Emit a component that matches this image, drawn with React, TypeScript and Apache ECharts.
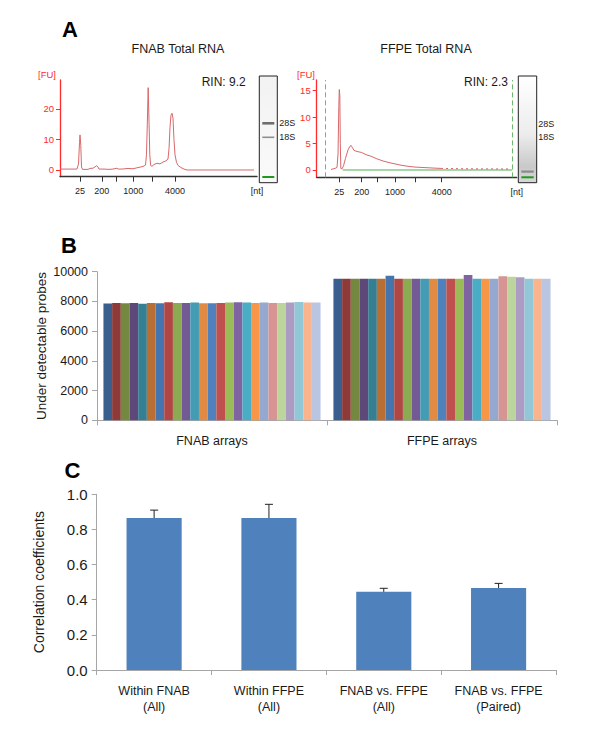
import React, { useEffect, useRef } from 'react';
import * as echarts from 'echarts';

const FONT = '"Liberation Sans", Arial, Helvetica, sans-serif';

// ---------- Panel A: electropherograms (x = migration time, s; y = FU) ----------
const fnabTime = [19.0, 21.54, 23.31, 23.7, 23.95, 24.08, 24.28, 24.46, 24.71, 26.11, 26.61, 27.38, 27.88, 28.31, 28.64, 28.9, 30.17, 31.44, 32.45, 33.47, 33.72, 34.74, 36.26, 37.53, 38.8, 39.56, 40.32, 40.7, 40.95, 41.16, 41.38, 41.59, 41.79, 42.0, 42.35, 42.86, 43.62, 44.38, 45.14, 45.9, 46.41, 46.67, 46.92, 47.17, 47.43, 47.68, 47.93, 48.19, 48.57, 48.95, 49.71, 50.47, 51.23, 68.24];
const fnabFU = [0.3, 0.3, 0.3, 2, 9, 11.5, 8, 1, 0.2, 0.2, 0.5, 0.6, 1.0, 1.4, 1.0, 0.3, 0.3, 0.2, 0.3, 0.6, 0.3, 0.3, 0.5, 0.4, 0.8, 1.0, 1.3, 1.6, 5, 15, 27, 16, 5, 1.5, 1.2, 1.8, 2.2, 2.0, 2.6, 3.0, 3.6, 7, 14, 18, 18.6, 17, 10, 5, 2.5, 1.5, 0.8, 0.3, 0, 0];
const fnabLadderPos = [24.08, 29.6, 33.4, 37.6, 42.3, 48.19];
const fnabLadderLabels = ['25', '200', '', '1000', '', '4000'];

const ffpeTime = [22.58, 23.58, 24.08, 24.33, 24.53, 24.65, 24.78, 24.9, 25.03, 25.33, 25.7, 26.2, 26.83, 27.33, 27.58, 27.95, 28.33, 29.08, 30.25, 31.33, 32.58, 34.08, 35.58, 37.08, 38.58, 40.08, 41.83, 43.58, 46.08, 48.58, 50.08];
const ffpeFU = [0.1, 0.3, 0.5, 3, 12, 15.2, 14, 5, 0.3, 0.2, 0.8, 2.2, 3.8, 4.5, 4.65, 4.2, 3.7, 3.5, 3.3, 2.9, 2.6, 2.1, 1.7, 1.4, 1.15, 0.9, 0.7, 0.55, 0.45, 0.35, 0.3];
const ffpeTailTime = [50.08, 54.83, 59.83, 64.83, 67.33];
const ffpeTailFU = [0.3, 0.25, 0.22, 0.2, 0.2];
const ffpeBaseTime = [25.5, 67.9];
const ffpeBaseFU = [0, 0];
const ffpeMarkerTimes = [21.25, 67.9];
const ffpeLadderPos = [24.65, 30.25, 34.25, 38.58, 43.58, 50.25];
const ffpeLadderLabels = ['25', '200', '', '1000', '', '4000'];

const fnabYTicks = [0, 10, 20];
const ffpeYTicks = [0, 5, 10, 15];

// ---------- Panel B ----------
const arrayGroups = ['FNAB arrays', 'FFPE arrays'];
const fnabProbes = [7860, 7890, 7870, 7900, 7850, 7900, 7880, 7950, 7900, 7900, 7920, 7880, 7880, 7900, 7920, 7950, 7920, 7900, 7930, 7900, 7890, 7920, 7960, 7930, 7930];
const ffpeProbes = [9520, 9520, 9520, 9520, 9520, 9520, 9730, 9520, 9520, 9520, 9520, 9520, 9520, 9520, 9520, 9780, 9520, 9520, 9520, 9700, 9660, 9620, 9520, 9520, 9520];
const arrayColors = ['#3A5F8F', '#8E3A38', '#74893F', '#5E4779', '#367F93', '#B96E33', '#4674AD', '#B04745', '#8CAA52', '#735A94', '#449CB4', '#E08A43', '#4F81BD', '#C0504D', '#9BBB59', '#8064A2', '#4BACC6', '#F79646', '#95A9D0', '#D69593', '#BCD59C', '#AC9CC3', '#92C7D8', '#F9B48E', '#BAC6E1'];

// ---------- Panel C ----------
const comparisons = ['Within FNAB\n(All)', 'Within FFPE\n(All)', 'FNAB vs. FFPE\n(All)', 'FNAB vs. FFPE\n(Paired)'];
const corrMeans = [0.865, 0.865, 0.445, 0.467];
const corrErrors = [0.045, 0.078, 0.02, 0.026];

const RED = '#ff2a2a';
const GRAY = '#a6a6a6';

function ladderAxis(gridIndex: number, pos: number[], labels: string[]) {
  const labelPos = pos.filter((_, i) => labels[i] !== '').concat([69]);
  return {
    type: 'value', gridIndex, min: 19, max: 69,
    axisLine: { show: true, onZero: false, lineStyle: { color: '#333', width: 1.3 } },
    axisTick: { show: true, customValues: pos, length: 5, lineStyle: { color: '#333', width: 1 } },
    axisLabel: {
      show: true, customValues: labelPos, margin: 10, fontSize: 9, color: '#222', fontFamily: FONT,
      formatter: (v: number) => {
        if (Math.abs(v - 69) < 0.01) return '[nt]';
        const i = pos.findIndex((p) => Math.abs(p - v) < 0.01);
        return i >= 0 ? labels[i] : '';
      },
    },
    splitLine: { show: false },
  };
}

function fuAxis(gridIndex: number, min: number, max: number, ticks: number[]) {
  return {
    type: 'value', gridIndex, min, max,
    axisLine: { show: true, lineStyle: { color: RED, width: 1.3 } },
    axisTick: { show: true, customValues: ticks, length: 4, lineStyle: { color: RED } },
    axisLabel: { show: true, customValues: ticks, margin: 6, fontSize: 9.5, color: RED, fontFamily: FONT },
    splitLine: { show: false },
  };
}

function txt(text: string, x: number, y: number, o: any = {}) {
  return {
    type: 'text', x, y, silent: true,
    style: { text, fill: o.fill || '#1a1a1a', fontSize: o.fontSize || 12, fontFamily: FONT, fontWeight: o.fontWeight || 'normal', align: o.align || 'left', verticalAlign: 'middle' },
  };
}

function gel(x: number, w: number, fill: any, bands: any[]) {
  return {
    type: 'group', silent: true,
    children: [
      { type: 'rect', shape: { x, y: 76, width: w, height: 106.7 }, style: { fill, stroke: '#222', lineWidth: 1 } },
      ...bands.map((b) => ({ type: 'rect', shape: { x: x + 3, y: b.y, width: w - 6, height: b.h }, style: { fill: b.c } })),
    ],
  };
}

export default function App() {
  const ref = useRef<HTMLDivElement>(null);
  useEffect(() => {
    if (!ref.current) return;
    const chart = echarts.init(ref.current, null, { renderer: 'svg' });
    const pairs = (xs: number[], ys: number[]) => xs.map((x, i) => [x, ys[i]]);

    const barSeries = arrayColors.map((c, i) => ({
      type: 'bar', xAxisIndex: 2, yAxisIndex: 2,
      data: [fnabProbes[i], ffpeProbes[i]],
      itemStyle: { color: c },
      barGap: '0%', barCategoryGap: '5.6%',
    }));

    const option: any = {
      animation: false,
      textStyle: { fontFamily: FONT },
      grid: [
        { left: 60, top: 80, width: 197, height: 96.7 },
        { left: 316.7, top: 80, width: 200, height: 97.3 },
        { left: 97, top: 271.7, width: 460, height: 148.6 },
        { left: 96.7, top: 494.3, width: 459.3, height: 175.7 },
      ],
      xAxis: [
        ladderAxis(0, fnabLadderPos, fnabLadderLabels),
        ladderAxis(1, ffpeLadderPos, ffpeLadderLabels),
        {
          type: 'category', gridIndex: 2, data: arrayGroups,
          axisLine: { lineStyle: { color: GRAY } },
          axisTick: { show: true, alignWithLabel: false, length: 5, lineStyle: { color: GRAY } },
          axisLabel: { fontSize: 12.5, color: '#1a1a1a', margin: 14, fontFamily: FONT },
        },
        {
          type: 'category', gridIndex: 3, data: comparisons,
          axisLine: { lineStyle: { color: GRAY } },
          axisTick: { show: true, alignWithLabel: false, length: 5, lineStyle: { color: GRAY } },
          axisLabel: { fontSize: 12.5, lineHeight: 16, color: '#1a1a1a', margin: 13, fontFamily: FONT, interval: 0 },
        },
      ],
      yAxis: [
        fuAxis(0, -2.2, 29.5, fnabYTicks),
        fuAxis(1, -1.38, 17.0, ffpeYTicks),
        {
          type: 'value', gridIndex: 2, min: 0, max: 10000, interval: 2000,
          name: 'Under detectable probes', nameLocation: 'middle', nameRotate: 90, nameGap: 49,
          nameMoveOverlap: false,
          nameTextStyle: { fontSize: 13.5, color: '#1a1a1a', fontFamily: FONT },
          axisLine: { show: true, lineStyle: { color: GRAY } },
          axisTick: { show: true, length: 5, lineStyle: { color: GRAY } },
          axisLabel: { fontSize: 12.5, color: '#1a1a1a', margin: 9, fontFamily: FONT, formatter: (v: number) => String(v) },
          splitLine: { show: false },
        },
        {
          type: 'value', gridIndex: 3, min: 0, max: 1, interval: 0.2,
          name: 'Correlation coefficients', nameLocation: 'middle', nameRotate: 90, nameGap: 51,
          nameMoveOverlap: false,
          nameTextStyle: { fontSize: 14, color: '#1a1a1a', fontFamily: FONT },
          axisLine: { show: true, lineStyle: { color: GRAY } },
          axisTick: { show: true, length: 5, lineStyle: { color: GRAY } },
          axisLabel: { fontSize: 15, color: '#1a1a1a', margin: 9, fontFamily: FONT, formatter: (v: number) => v.toFixed(1) },
          splitLine: { show: false },
        },
      ],
      series: [
        {
          type: 'line', xAxisIndex: 0, yAxisIndex: 0, data: pairs(fnabTime, fnabFU),
          showSymbol: false, lineStyle: { color: '#d9676a', width: 1 }, z: 3,
        },
        {
          type: 'line', xAxisIndex: 1, yAxisIndex: 1, data: pairs(ffpeBaseTime, ffpeBaseFU),
          showSymbol: false, lineStyle: { color: '#4caf50', width: 1 }, z: 2,
          markLine: {
            silent: true, symbol: ['none', 'none'], label: { show: false },
            lineStyle: { color: '#6fb86f', type: [5, 3], width: 1 },
            data: ffpeMarkerTimes.map((t) => ({ xAxis: t })),
          },
        },
        {
          type: 'line', xAxisIndex: 1, yAxisIndex: 1, data: pairs(ffpeTime, ffpeFU),
          showSymbol: false, lineStyle: { color: '#d9676a', width: 1 }, z: 3,
        },
        {
          type: 'line', xAxisIndex: 1, yAxisIndex: 1, data: pairs(ffpeTailTime, ffpeTailFU),
          showSymbol: false, lineStyle: { color: '#d9676a', width: 1, type: [2, 3] }, z: 3,
        },
        ...barSeries,
        {
          type: 'bar', xAxisIndex: 3, yAxisIndex: 3, data: corrMeans,
          barWidth: '48%', itemStyle: { color: '#4F81BD' },
        },
        {
          type: 'custom', xAxisIndex: 3, yAxisIndex: 3, z: 5,
          data: corrMeans.map((m, i) => [i, m, corrErrors[i]]),
          renderItem: (params: any, api: any) => {
            const i = api.value(0);
            const m = api.value(1);
            const e = api.value(2);
            const base = api.coord([i, m]);
            const top = api.coord([i, m + e]);
            const st = { stroke: '#222', lineWidth: 1 };
            return {
              type: 'group',
              children: [
                { type: 'line', shape: { x1: base[0], y1: base[1], x2: base[0], y2: top[1] }, style: st },
                { type: 'line', shape: { x1: base[0] - 4, y1: top[1], x2: base[0] + 4, y2: top[1] }, style: st },
              ],
            };
          },
        },
      ],
      graphic: [
        txt('A', 70, 29, { fontSize: 22, fontWeight: 'bold', align: 'center', fill: '#000' }),
        txt('FNAB Total RNA', 178, 48.5, { fontSize: 12.5, align: 'center' }),
        txt('FFPE Total RNA', 426, 48.5, { fontSize: 12.5, align: 'center' }),
        txt('RIN: 9.2', 201.7, 81.7, { fontSize: 12 }),
        txt('RIN: 2.3', 464, 81.7, { fontSize: 12 }),
        txt('[FU]', 47, 74, { fontSize: 9.5, align: 'center', fill: RED }),
        txt('[FU]', 306, 74, { fontSize: 9.5, align: 'center', fill: RED }),
        gel(259.3, 18, {
          type: 'linear', x: 0, y: 0, x2: 0, y2: 1,
          colorStops: [{ offset: 0, color: '#f2f2f2' }, { offset: 1, color: '#fafafa' }],
        }, [
          { y: 122, h: 2.6, c: '#6e6e6e' },
          { y: 136.5, h: 1.6, c: '#8f8f8f' },
          { y: 176, h: 2, c: '#1e9a1e' },
        ]),
        gel(518.3, 18.4, {
          type: 'linear', x: 0, y: 0, x2: 0, y2: 1,
          colorStops: [
            { offset: 0, color: '#ffffff' }, { offset: 0.12, color: '#fbfbfb' },
            { offset: 0.55, color: '#ececec' }, { offset: 0.85, color: '#c9c9c9' }, { offset: 1, color: '#d8d8d8' },
          ],
        }, [
          { y: 170.5, h: 2.2, c: '#8a8a8a' },
          { y: 176.3, h: 2, c: '#1e9a1e' },
        ]),
        txt('28S', 279.3, 123.3, { fontSize: 9 }),
        txt('18S', 279.3, 137.3, { fontSize: 9 }),
        txt('28S', 538.3, 124, { fontSize: 9 }),
        txt('18S', 538.3, 137, { fontSize: 9 }),
        txt('B', 69, 245, { fontSize: 22, fontWeight: 'bold', align: 'center', fill: '#000' }),
        txt('C', 72.5, 470.5, { fontSize: 22, fontWeight: 'bold', align: 'center', fill: '#000' }),
      ],
    };
    chart.setOption(option);
    return () => chart.dispose();
  }, []);
  return <div ref={ref} style={{ position: 'fixed', left: 0, top: 0, width: 600, height: 753, background: '#fff' }} />;
}
